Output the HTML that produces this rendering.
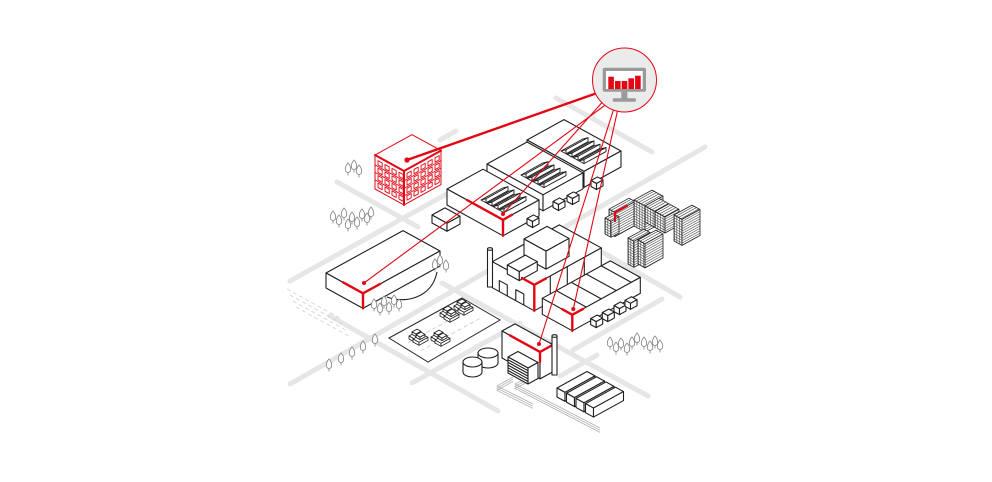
<!DOCTYPE html>
<html><head><meta charset="utf-8">
<style>
html,body{margin:0;padding:0;background:#fff}
svg{display:block}
svg *{vector-effect:non-scaling-stroke}
.b{fill:#fff;stroke:#1e1e1e;stroke-width:1.1;stroke-linejoin:round}
.rr{fill:#fff;stroke:#e30613;stroke-width:1;stroke-linejoin:round}
.rd{fill:none;stroke:#e6e6e6;stroke-width:5;stroke-linecap:round}
.tr{fill:#fff;stroke:#808080;stroke-width:.8}
.acc{fill:none;stroke:#e30613;stroke-width:2.4;stroke-linejoin:round;stroke-linecap:round}
.ln{fill:none;stroke:#e30613;stroke-width:1.1}
.p rect{stroke:#222;stroke-width:.8;stroke-linejoin:round}
</style></head><body>
<svg width="992" height="482" viewBox="0 0 992 482" xmlns="http://www.w3.org/2000/svg">
<defs>
<pattern id="grid" width="2.6" height="2.6" patternUnits="userSpaceOnUse"><rect width="2.6" height="2.6" fill="#fff"/><rect width="2.6" height=".55" fill="#333"/><rect width=".55" height="2.6" fill="#333"/></pattern>
<pattern id="str" width="40" height="2.4" patternUnits="userSpaceOnUse"><rect width="40" height="2.4" fill="#fff"/><rect y="1.8" width="40" height=".6" fill="#333"/></pattern>
<pattern id="strv" width="2.4" height="40" patternUnits="userSpaceOnUse"><rect width="2.4" height="40" fill="#fff"/><rect x="1.8" width=".6" height="40" fill="#333"/></pattern>
<g id="sky" style="fill:#fff;stroke:#1e1e1e;stroke-width:.9;stroke-linejoin:round">
<path d="M34,11L56,-1.1L61,-2.35L39,9.75Z"/><path d="M39,9.75L61,-2.35L61,1.65L39,13.75Z"/><path d="M34,11L39,9.75L39,13.75Z"/>
<path d="M40,14.3L62,2.2L67,.95L45,13.05Z"/><path d="M45,13.05L67,.95L67,4.95L45,17.05Z"/><path d="M40,14.3L45,13.05L45,17.05Z"/>
<path d="M46,17.6L68,5.5L73,4.25L51,16.35Z"/><path d="M51,16.35L73,4.25L73,8.25L51,20.35Z"/><path d="M46,17.6L51,16.35L51,20.35Z"/>
<path d="M52,20.9L74,8.8L79,7.55L57,19.65Z"/><path d="M57,19.65L79,7.55L79,11.55L57,23.65Z"/><path d="M52,20.9L57,19.65L57,23.65Z"/>
</g>
<g id="cube" class="b">
<rect transform="matrix(1,.55,1,-.55,0,0)" width="5.5" height="6.5"/>
<rect transform="matrix(1,.55,0,1,0,0)" width="5.5" height="6"/>
<rect transform="matrix(1,-.55,0,1,5.5,3.025)" width="6.5" height="6"/>
</g>
<g id="car" class="b" style="stroke-width:.8">
<path d="M0,0L9,-4.95L15,-1.65L6,3.3Z"/><path d="M0,0L6,3.3L6,6.3L0,3Z"/><path d="M6,3.3L15,-1.65L15,1.35L6,6.3Z"/>
<path d="M3,-4.1L8,-6.85L12,-4.65L7,-1.9Z"/><path d="M3,-4.1L7,-1.9L7,.6L3,-1.6Z"/><path d="M7,-1.9L12,-4.65L12,-2.15L7,.6Z"/>
</g>
<g id="tree" class="tr"><path d="M0,-6C3.6,-2 3.6,3.2 0,3.5C-3.6,3.2 -3.6,-2 0,-6Z"/><path d="M0,3.5V6.5" fill="none"/></g>
</defs>

<!-- roads -->
<g class="rd">
<line x1="290" y1="281" x2="452" y2="191"/>
<line x1="440" y1="140" x2="456" y2="131"/>
<line x1="290" y1="384" x2="705" y2="147"/>
<line x1="412" y1="383" x2="520" y2="323"/>
<line x1="573" y1="350" x2="662" y2="299"/>
<line x1="560" y1="376" x2="597" y2="355"/>
<line x1="556" y1="98" x2="652" y2="152"/>
<line x1="337" y1="182" x2="418" y2="227"/>
<line x1="590" y1="245" x2="680" y2="297"/>
<line x1="330" y1="316" x2="498" y2="411"/>
<line x1="442" y1="283" x2="648" y2="396"/>
</g>

<!-- dashed field lines -->
<g stroke="#cfcfcf" stroke-width=".8" stroke-dasharray="4 3" fill="none">
<line x1="287" y1="289" x2="342" y2="319.25"/>
<line x1="290" y1="295" x2="345" y2="325.25"/>
<line x1="293" y1="301" x2="348" y2="331.25"/>
<line x1="296" y1="307" x2="351" y2="337.25"/>
</g>

<!-- rails -->
<g stroke="#b0b0b0" stroke-width=".8" fill="none">
<polyline points="513,377 497,386 533,404"/>
<polyline points="513,379.2 497,388.2 533,406.2"/>
<polyline points="513,381.4 497,390.4 533,408.4"/>
<polyline points="527,378 515,384 600,428"/>
<polyline points="527,380.2 515,386.2 600,430.2"/>
<polyline points="527,382.4 515,388.4 600,432.4"/>
</g>

<!-- parking lot -->
<polygon points="389,338 462,298 500,320 428,362" fill="#fff" stroke="#2a2a2a" stroke-width="1"/>
<g stroke="#c8c8c8" stroke-width=".8" stroke-dasharray="4 3">
<line x1="407.8" y1="342.8" x2="469.2" y2="309.2"/>
<line x1="420.8" y1="350.8" x2="482.2" y2="317.2"/>
</g>
<use href="#car" x="409" y="336"/><use href="#car" x="413" y="339"/>
<use href="#car" x="431" y="337"/><use href="#car" x="435" y="340"/>
<use href="#car" x="440" y="313"/><use href="#car" x="444" y="316"/>
<use href="#car" x="454" y="306"/><use href="#car" x="458" y="309"/>

<!-- warehouses -->
<g class="b" transform="translate(527,140)">
<rect transform="matrix(1,.55,1,-.55,0,0)" width="57" height="37"/>
<rect transform="matrix(1,.55,0,1,0,0)" width="57" height="16"/>
<rect transform="matrix(1,-.55,0,1,57,31.35)" width="37" height="16"/>
<use href="#sky"/>
</g>
<g class="b" transform="translate(487,164)">
<rect transform="matrix(1,.55,1,-.55,0,0)" width="56" height="40"/>
<rect transform="matrix(1,.55,0,1,0,0)" width="56" height="16"/>
<rect transform="matrix(1,-.55,0,1,56,30.8)" width="40" height="16"/>
<use href="#sky"/>
</g>
<g class="b" transform="translate(447,189)">
<rect transform="matrix(1,.55,1,-.55,0,0)" width="56" height="36"/>
<rect transform="matrix(1,.55,0,1,0,0)" width="56" height="16"/>
<rect transform="matrix(1,-.55,0,1,56,30.8)" width="36" height="16"/>
<use href="#sky"/>
</g>
<polyline class="acc" points="467,200 503,219.8 512,214.85"/>
<line class="acc" x1="503" y1="219.8" x2="503" y2="235.8"/>
<use href="#cube" x="527" y="218.5"/>
<use href="#cube" x="553" y="201.5"/>
<use href="#cube" x="567" y="195.5"/>
<use href="#cube" x="591" y="180.5"/>
<!-- flat box -->
<g class="b" transform="translate(432,215)">
<rect transform="matrix(1,.55,1,-.55,0,0)" width="15" height="13"/>
<rect transform="matrix(1,.55,0,1,0,0)" width="15" height="8"/>
<rect transform="matrix(1,-.55,0,1,15,8.25)" width="13" height="8"/>
</g>

<!-- red building -->
<g class="rr" transform="translate(375,155)">
<rect transform="matrix(1,.55,1,-.55,0,0)" width="29" height="37"/>
<rect transform="matrix(1,.55,0,1,0,0)" width="29" height="34"/>
<rect transform="matrix(1,-.55,0,1,29,15.95)" width="37" height="34"/>
<g transform="matrix(1,.55,0,1,0,0)" style="stroke-width:.9">
<line x1="0" y1="9.9" x2="29" y2="9.9"/><line x1="0" y1="17.4" x2="29" y2="17.4"/><line x1="0" y1="24.9" x2="29" y2="24.9"/>
<rect x="3" y="4" width="4.2" height="4.3"/><rect x="10" y="4" width="4.2" height="4.3"/><rect x="17" y="4" width="4.2" height="4.3"/><rect x="24" y="4" width="4.2" height="4.3"/>
<rect x="3" y="11.5" width="4.2" height="4.3"/><rect x="10" y="11.5" width="4.2" height="4.3"/><rect x="17" y="11.5" width="4.2" height="4.3"/><rect x="24" y="11.5" width="4.2" height="4.3"/>
<rect x="3" y="19" width="4.2" height="4.3"/><rect x="10" y="19" width="4.2" height="4.3"/><rect x="17" y="19" width="4.2" height="4.3"/><rect x="24" y="19" width="4.2" height="4.3"/>
<rect x="3" y="26.5" width="4.2" height="4.3"/><rect x="10" y="26.5" width="4.2" height="4.3"/><rect x="17" y="26.5" width="4.2" height="4.3"/><rect x="24" y="26.5" width="4.2" height="4.3"/>
</g>
<g transform="matrix(1,-.55,0,1,29,15.95)" style="stroke-width:.9">
<line x1="0" y1="9.9" x2="37" y2="9.9"/><line x1="0" y1="17.4" x2="37" y2="17.4"/><line x1="0" y1="24.9" x2="37" y2="24.9"/>
<rect x="3" y="4" width="4.2" height="4.3"/><rect x="10" y="4" width="4.2" height="4.3"/><rect x="17" y="4" width="4.2" height="4.3"/><rect x="24" y="4" width="4.2" height="4.3"/><rect x="31" y="4" width="4.2" height="4.3"/>
<rect x="3" y="11.5" width="4.2" height="4.3"/><rect x="10" y="11.5" width="4.2" height="4.3"/><rect x="17" y="11.5" width="4.2" height="4.3"/><rect x="24" y="11.5" width="4.2" height="4.3"/><rect x="31" y="11.5" width="4.2" height="4.3"/>
<rect x="3" y="19" width="4.2" height="4.3"/><rect x="10" y="19" width="4.2" height="4.3"/><rect x="17" y="19" width="4.2" height="4.3"/><rect x="24" y="19" width="4.2" height="4.3"/><rect x="31" y="19" width="4.2" height="4.3"/>
<rect x="3" y="26.5" width="4.2" height="4.3"/><rect x="10" y="26.5" width="4.2" height="4.3"/><rect x="17" y="26.5" width="4.2" height="4.3"/><rect x="24" y="26.5" width="4.2" height="4.3"/><rect x="31" y="26.5" width="4.2" height="4.3"/>
</g>
</g>
<polyline class="acc" style="stroke-width:2" points="375,155 404,170.95 441,150.6"/>
<line class="acc" style="stroke-width:2" x1="404" y1="171" x2="404" y2="205"/>

<!-- long building -->
<path class="b" style="fill:none" d="M387,297C405,304 432,298 437,272"/>
<g class="b" transform="translate(326,273)">
<rect transform="matrix(1,.55,1,-.55,0,0)" width="37" height="77"/>
<rect transform="matrix(1,.55,0,1,0,0)" width="37" height="15"/>
<rect transform="matrix(1,-.55,0,1,37,20.35)" width="77" height="15"/>
</g>
<polyline class="acc" points="343,282.35 363,293.35 380,284"/>
<line class="acc" x1="363" y1="293.35" x2="363" y2="308.35"/>

<!-- factory -->
<g class="b" transform="translate(492.3,261.7)">
<rect transform="matrix(1,.55,1,-.55,0,0)" width="42" height="67"/>
<rect transform="matrix(1,.55,0,1,0,0)" width="42" height="26"/>
<rect transform="matrix(1,-.55,0,1,42,23.1)" width="67" height="26"/>
<path transform="matrix(1,.55,0,1,0,0)" fill="none" d="M7,26V15H15V26M23.5,26V15H31.5V26"/>
<path transform="matrix(1,-.55,0,1,42,23.1)" fill="none" d="M16,0V26M33,0V26M50,0V26"/>
</g>
<g class="b" transform="translate(524,239)">
<rect transform="matrix(1,.55,1,-.55,0,0)" width="22" height="23"/>
<rect transform="matrix(1,.55,0,1,0,0)" width="22" height="18"/>
<rect transform="matrix(1,-.55,0,1,22,12.1)" width="23" height="18"/>
</g>
<g class="b" transform="translate(507.3,265)">
<rect transform="matrix(1,.55,1,-.55,0,0)" width="12" height="18"/>
<rect transform="matrix(1,.55,0,1,0,0)" width="12" height="9"/>
<rect transform="matrix(1,-.55,0,1,12,6.6)" width="18" height="9"/>
</g>
<rect class="b" x="487.5" y="249" width="5" height="38"/>
<ellipse class="b" cx="490" cy="249" rx="2.5" ry="1.3"/>
<polyline class="acc" points="522,278 534.3,284.8 546,278.4"/>
<line class="acc" x1="534.3" y1="284.8" x2="534.3" y2="310.8"/>

<!-- lower building -->
<g class="b" transform="translate(542.3,298.3)">
<rect transform="matrix(1,.55,1,-.55,0,0)" width="30" height="68"/>
<rect transform="matrix(1,.55,0,1,0,0)" width="30" height="16"/>
<rect transform="matrix(1,-.55,0,1,30,16.5)" width="68" height="16"/>
<path transform="matrix(1,.55,1,-.55,0,0)" fill="none" d="M0,14H30M0,29H30M0,44H30M0,59H30"/>
</g>
<polyline class="acc" points="562,309.1 572.3,314.8 583,308.9"/>
<line class="acc" x1="572.3" y1="314.8" x2="572.3" y2="330.8"/>
<use href="#cube" x="590.7" y="318.6"/>
<use href="#cube" x="602.3" y="312.6"/>
<use href="#cube" x="614" y="305.6"/>
<use href="#cube" x="625" y="300.3"/>

<!-- lumber stacks -->
<g class="p" transform="translate(609,209.2)">
<rect transform="matrix(1,.55,1,-.55,0,0)" width="6" height="20" fill="url(#strv)"/>
<rect transform="matrix(1,.55,0,1,0,0)" width="6" height="24" fill="url(#grid)"/>
<rect transform="matrix(1,-.55,0,1,6,3.3)" width="20" height="24" fill="url(#str)"/>
</g>
<g class="p" transform="translate(605,218)">
<rect transform="matrix(1,.55,1,-.55,0,0)" width="6" height="8" fill="url(#strv)"/>
<rect transform="matrix(1,.55,0,1,0,0)" width="6" height="16" fill="url(#grid)"/>
<rect transform="matrix(1,-.55,0,1,6,3.3)" width="8" height="16" fill="url(#str)"/>
</g>
<polyline class="acc" style="stroke-width:2.2" points="615,221 615,212.5 627,205.9"/>
<g class="p" transform="translate(634,200)">
<rect transform="matrix(1,.55,1,-.55,0,0)" width="11" height="18" fill="url(#strv)"/>
<rect transform="matrix(1,.55,0,1,0,0)" width="11" height="26" fill="url(#grid)"/>
<rect transform="matrix(1,-.55,0,1,11,6.05)" width="18" height="26" fill="url(#str)"/>
</g>
<g class="p" transform="translate(645,206)">
<rect transform="matrix(1,.55,1,-.55,0,0)" width="10" height="14" fill="url(#strv)"/>
<rect transform="matrix(1,.55,0,1,0,0)" width="10" height="16" fill="url(#grid)"/>
<rect transform="matrix(1,-.55,0,1,10,5.5)" width="14" height="16" fill="url(#str)"/>
</g>
<g class="p" transform="translate(655,211.5)">
<rect transform="matrix(1,.55,1,-.55,0,0)" width="10" height="14" fill="url(#strv)"/>
<rect transform="matrix(1,.55,0,1,0,0)" width="10" height="16" fill="url(#grid)"/>
<rect transform="matrix(1,-.55,0,1,10,5.5)" width="14" height="16" fill="url(#str)"/>
</g>
<g class="p" transform="translate(674,215)">
<rect transform="matrix(1,.55,1,-.55,0,0)" width="8" height="18" fill="url(#strv)"/>
<rect transform="matrix(1,.55,0,1,0,0)" width="8" height="26" fill="url(#grid)"/>
<rect transform="matrix(1,-.55,0,1,8,4.4)" width="18" height="26" fill="url(#str)"/>
</g>
<g class="p" transform="translate(628,238)">
<rect transform="matrix(1,.55,1,-.55,0,0)" width="6" height="16" fill="url(#strv)"/>
<rect transform="matrix(1,.55,0,1,0,0)" width="6" height="26" fill="url(#grid)"/>
<rect transform="matrix(1,-.55,0,1,6,3.3)" width="16" height="26" fill="url(#str)"/>
</g>
<g class="p" transform="translate(638,240)">
<rect transform="matrix(1,.55,1,-.55,0,0)" width="7" height="18" fill="url(#strv)"/>
<rect transform="matrix(1,.55,0,1,0,0)" width="7" height="24" fill="url(#grid)"/>
<rect transform="matrix(1,-.55,0,1,7,3.85)" width="18" height="24" fill="url(#str)"/>
</g>

<!-- tanks -->
<path class="b" d="M478,353V363A10,5 0 0 0 498,363V353Z"/>
<ellipse class="b" cx="488" cy="353" rx="10" ry="5"/>
<path class="b" d="M463,362V372A9.5,5 0 0 0 482,372V362Z"/>
<ellipse class="b" cx="472.5" cy="362" rx="9.5" ry="5"/>

<!-- power plant -->
<g class="b" transform="translate(502,331)">
<rect transform="matrix(1,.55,1,-.55,0,0)" width="38" height="13"/>
<rect transform="matrix(1,.55,0,1,0,0)" width="38" height="27"/>
<rect transform="matrix(1,-.55,0,1,38,20.9)" width="13" height="27"/>
</g>
<polyline class="acc" points="510,335.4 540,351.9 553,344.75"/>
<line class="acc" x1="540" y1="351.9" x2="540" y2="362"/>
<rect class="b" x="552" y="336" width="5" height="39"/>
<ellipse class="b" cx="554.5" cy="336" rx="2.5" ry="1.3"/>
<g class="b" transform="translate(508,357)">
<rect transform="matrix(1,.55,1,-.55,0,0)" width="20" height="10"/>
<rect transform="matrix(1,.55,0,1,0,0)" width="20" height="16"/>
<rect transform="matrix(1,-.55,0,1,20,11)" width="10" height="16"/>
<path transform="matrix(1,.55,0,1,0,0)" fill="none" d="M0,2.7H20M0,5.4H20M0,8.1H20M0,10.8H20M0,13.5H20"/>
</g>

<!-- containers -->
<g class="b" transform="translate(557,388)">
<rect transform="matrix(1,.55,1,-.55,0,0)" width="8" height="30"/>
<rect transform="matrix(1,.55,0,1,0,0)" width="8" height="9"/>
<rect transform="matrix(1,-.55,0,1,8,4.4)" width="30" height="9"/>
</g>
<g class="b" transform="translate(566.5,393.225)">
<rect transform="matrix(1,.55,1,-.55,0,0)" width="8" height="30"/>
<rect transform="matrix(1,.55,0,1,0,0)" width="8" height="9"/>
<rect transform="matrix(1,-.55,0,1,8,4.4)" width="30" height="9"/>
</g>
<g class="b" transform="translate(576,398.45)">
<rect transform="matrix(1,.55,1,-.55,0,0)" width="8" height="30"/>
<rect transform="matrix(1,.55,0,1,0,0)" width="8" height="9"/>
<rect transform="matrix(1,-.55,0,1,8,4.4)" width="30" height="9"/>
</g>
<g class="b" transform="translate(585.5,403.675)">
<rect transform="matrix(1,.55,1,-.55,0,0)" width="8" height="30"/>
<rect transform="matrix(1,.55,0,1,0,0)" width="8" height="9"/>
<rect transform="matrix(1,-.55,0,1,8,4.4)" width="30" height="9"/>
</g>

<!-- trees -->
<use href="#tree" x="348" y="169"/><use href="#tree" x="354" y="166"/><use href="#tree" x="359" y="171"/>
<use href="#tree" x="333" y="217"/><use href="#tree" x="339" y="221"/><use href="#tree" x="344" y="214"/><use href="#tree" x="348" y="225"/><use href="#tree" x="352" y="218"/><use href="#tree" x="357" y="223"/><use href="#tree" x="362" y="215"/><use href="#tree" x="367" y="219"/><use href="#tree" x="371" y="213"/>
<use href="#tree" x="435" y="265"/><use href="#tree" x="440" y="261"/><use href="#tree" x="446" y="266"/>
<use href="#tree" x="374" y="305"/><use href="#tree" x="380" y="309"/><use href="#tree" x="384" y="302"/><use href="#tree" x="389" y="308"/><use href="#tree" x="394" y="301"/><use href="#tree" x="399" y="305"/>
<use href="#tree" x="329" y="365"/><use href="#tree" x="341" y="359"/><use href="#tree" x="352" y="353"/><use href="#tree" x="363" y="347"/><use href="#tree" x="375" y="340"/>
<use href="#tree" x="610" y="343"/><use href="#tree" x="616" y="348"/><use href="#tree" x="621" y="344"/><use href="#tree" x="627" y="349"/><use href="#tree" x="632" y="343"/><use href="#tree" x="637" y="339"/><use href="#tree" x="644" y="343"/><use href="#tree" x="650" y="347"/><use href="#tree" x="655" y="342"/><use href="#tree" x="660" y="346"/>

<!-- connector lines -->
<line class="ln" style="stroke-width:2.4" x1="600" y1="92" x2="407" y2="160"/>
<line class="ln" x1="606" y1="98" x2="503" y2="214"/>
<line class="ln" x1="608" y1="103" x2="364" y2="283"/>
<line class="ln" x1="615" y1="105" x2="539" y2="344"/>
<line class="ln" x1="619" y1="104" x2="573.3" y2="309"/>
<g fill="#e30613">
<circle cx="407" cy="160" r="2.6"/>
<circle cx="503" cy="214" r="2"/>
<circle cx="364" cy="283" r="2"/>
<circle cx="539" cy="344" r="2"/>
<circle cx="573.3" cy="309" r="2"/>
</g>

<!-- monitor bubble -->
<circle cx="624.5" cy="80" r="32" fill="#ebebeb" stroke="#e30613" stroke-width="1"/>
<rect x="602.7" y="67.7" width="43.3" height="24" rx="2" fill="#9a9a9a"/>
<rect x="606" y="71" width="36.7" height="18" fill="#fff"/>
<g fill="#e30613">
<rect x="608.3" y="76.7" width="5.6" height="12.3"/>
<rect x="615" y="81" width="5.6" height="8"/>
<rect x="621.7" y="81" width="5.6" height="8"/>
<rect x="628.4" y="78.3" width="5.6" height="10.7"/>
<rect x="635.1" y="75.7" width="5.6" height="13.3"/>
</g>
<rect x="621.3" y="91.7" width="6" height="6.8" fill="#9a9a9a"/>
<rect x="612.7" y="98.3" width="23.3" height="3.4" rx="1.5" fill="#9a9a9a"/>
</svg>
</body></html>
